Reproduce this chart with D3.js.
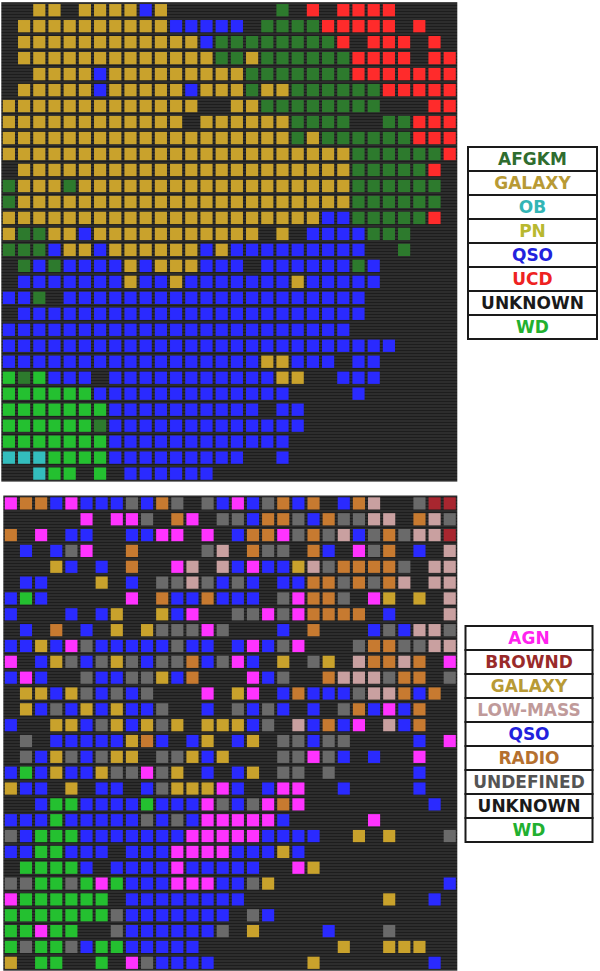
<!DOCTYPE html>
<html><head><meta charset="utf-8">
<script src="https://cdn.jsdelivr.net/npm/d3@7"></script>
<style>body{margin:0;background:#fff}svg{display:block}</style>
</head><body><svg id="c" width="600" height="971"></svg>
<script>
// ---------- data: top map ----------
const topCategories = ["AFGKM","GALAXY","OB","PN","QSO","UCD","UNKNOWN","WD"];
const topCodes      = ["A","G","O","P","Q","U","K","W"];
const topColors     = ["#2d7a2d","#c9a22c","#33bdbd","#c2c234","#2a2aff","#ff2b2b","#141414","#24c030"];
const topTextColors = ["#2f6d2f","#b89a35","#33b5b5","#b8b830","#2222dd","#ee2222","#1a1a1a","#22b030"];
// one string per map row, one character per column ('.' = empty node)
const topGrid = [
  "..GG.GGGGQG.......A.U.UUUU....",
  ".GGGGGGGGGGQQQQQ.AAAAUUUUU.U..",
  ".GGGGGGGGGGGGQAAAAAAAAU.UUU.U.",
  ".GGGGGGGGGGGGGAAGAAAAAAUUUU.UU",
  "..GGGGQGGGGGGGGGAAAAAAAUUUUUUU",
  ".GGGGGQGGGGGQGGGAGGAAAAAAUUUUU",
  "GGGGGGGGGGGGG..GGAAAAAAAA...UU",
  "GGGGGGGGGGGG.GGGGGGAAAA..AAUUU",
  "GGGGGGGGGGGGGGGGGGGAGAAAAAAUUU",
  "GGGGGGGGGGGGGGGGGGGGGGGAAAAAAU",
  ".GGGGGGGGGGGGGGGGGGGGGGAAAAAU.",
  "AGGGAGGGGGGGGGGGGGGGGGGAAAAAA.",
  "AGGGGGGGGGGGGGGGGGGGGGGAAAAAA.",
  "GGGGGGGGGGGGGGGGGGGGGQQAAAAAU.",
  "GAAGGQGGGGGGGGGGG.G.QQQQAAA...",
  "AAAQGGQGGGGGGQGQQQQQQQQQ..A...",
  ".AQAQQQQGQGGGQQQ.QQQQQQAQ.....",
  ".QQQQQQQGQQGQQQQQQQGQQQQQ.....",
  "QQA.QQQQQQQQQQQQQQQQQQQQ......",
  ".QQQQQQQQQQQQQQQQQQQQQQQ......",
  "QQQQQQQQQQQQQQQQQQQQQQQ.......",
  "QQQQQQQQQQQQQQQQQQQQQQQQQQ....",
  "QQQQQQQQQQQQQQQQQGGQQQ.QQ.....",
  "WAWQQQ.QQQQQQQQQQQGG..QQQ.....",
  "WWWWWWQQQQQQQQQQQQQ....Q......",
  "WWWWWWWQQQQQQQQQQ.QQ..........",
  "WWWWWWAQQQQQQQQQQQQQ..........",
  "WWWWWWWQQQQQQQQQQQQ...........",
  "OOOWWWWQQQQQQQQQ..Q...........",
  "..OWW.W.QQQQQQ................"
];

// ---------- data: bottom map ----------
const botCategories = ["AGN","BROWND","GALAXY","LOW-MASS","QSO","RADIO","UNDEFINED","UNKNOWN","WD"];
const botCodes      = ["M","B","G","L","Q","R","D","K","W"];
const botColors     = ["#ff33ff","#a8262f","#c9a22c","#c9a0a0","#2a2aff","#c77a30","#6a6a6a","#141414","#24c030"];
const botTextColors = ["#ff22ee","#992a2a","#b89a35","#c09a9a","#2222dd","#b5702f","#555555","#1a1a1a","#22b030"];
const botGrid = [
  "MRRQMQQQDQRD.DQMQDRQR.QRL..DBB",
  ".....M.MMD.RM.DDQRRDQRDDLL.RLD",
  "R.M.QQ..QQMM.M.QRRMDRDLQDRDLLB",
  ".Q.QDM..R....DL.RDD.RQ.MDR.Q.L",
  "...GQ.Q.R..ML.LQMQQGLDRRRRD.LL",
  ".QQ...G.Q.DDLDQDQ.QQRRDRDRL.LL",
  "QWQ.....M.RQQRQQQ.DMRRD.MG.G.L",
  "Q...Q.QG..GQM..DDMDMRRRR.Q...L",
  ".Q.R.Q.G.GDDDMD...Q.R...QDQLLD",
  "QQGQMDQQQQQDQQ.QMQDM...DRRDDLL",
  "M.QGDQDGDQDDRQDMQ.G.DG.LRRLR.M",
  "QMQ..DQQDDGQR...MQD..RLLLDRR.D",
  ".GGQGDQDQD...M.GM.QRQQQDLLRQR.",
  ".GQDQGQGQQD..Q.DQDQ.Q.DRQMQR..",
  "Q..GGQDGQGDG.GGGQD.LQRQM.LQR..",
  ".D.QQQQQGRQ.QG.QG.DDQDD....Q.M",
  ".DQGDQDGG.DDGQG...DDMDQ.Q..M..",
  "QWQGQQGDDMDG.Q.QG.DD.D.....Q..",
  "GQQ.G.QQ.QDGGGMQ.QMM..Q....Q..",
  "..QWWQQQQWQQQMDQDMRM........Q.",
  "QQQWQQQQQDQDQMMMMMQ.....M.....",
  "DQWWWQQQQQQQMMMMMQQQQ..G.G...D",
  "QQWWQQQ.QQQMMMMQQQGQ..........",
  ".WWWWQ.QQQQMQQQQQ..MG.........",
  "DDWWDWMWQQQMMMQQDG...........Q",
  "MWWWWWW.QQQQQQQQ.........G..Q.",
  "WWWWWWWDQQQQQQQ.DQ............",
  "WWMWW..DQQQQQQD.G....Q...D....",
  "WDWWDQWWQQQQQ.........G..GGG..",
  "G.WW..W.MDQQQQ......G.......Q."
];

// ---------- drawing ----------
const svg = d3.select("#c");
const defs = svg.append("defs");
const pat = defs.append("pattern").attr("id","scan").attr("patternUnits","userSpaceOnUse")
  .attr("width",6).attr("height",3);
pat.append("rect").attr("width",6).attr("height",3).attr("fill","#2d2d2d");
pat.append("rect").attr("y",2).attr("width",6).attr("height",1).attr("fill","#1d1d1d");

function drawMap(grid, codes, colors, x0, x1, y0, y1) {
  const nCols = grid[0].length, nRows = grid.length;
  const xs = d3.scaleBand().domain(d3.range(nCols)).range([x0, x1]).paddingInner(0.2).paddingOuter(0.1);
  const ys = d3.scaleBand().domain(d3.range(nRows)).range([y0, y1]).paddingInner(0.23).paddingOuter(0.115);
  const color = d3.scaleOrdinal().domain(codes).range(colors);
  const g = svg.append("g");
  g.append("rect").attr("x", x0).attr("y", y0).attr("width", x1 - x0).attr("height", y1 - y0)
    .attr("fill", "url(#scan)");
  const cells = [];
  grid.forEach((row, r) => row.split("").forEach((ch, c) => { if (ch !== ".") cells.push({r, c, ch}); }));
  g.selectAll("rect.cell").data(cells).join("rect").attr("class","cell")
    .attr("x", d => xs(d.c)).attr("y", d => ys(d.r))
    .attr("width", xs.bandwidth()).attr("height", ys.bandwidth())
    .attr("fill", d => color(d.ch));
}

function drawLegend(names, textColors, x0, x1, y0, y1) {
  const ys = d3.scaleBand().domain(d3.range(names.length)).range([y0, y1]);
  const g = svg.append("g");
  const items = g.selectAll("g").data(names).join("g");
  items.append("rect").attr("x", x0).attr("y", (d,i) => ys(i))
    .attr("width", x1 - x0).attr("height", ys.bandwidth())
    .attr("fill", "#fff").attr("stroke", "#1a1a1a").attr("stroke-width", 2);
  items.append("text")
    .attr("transform", (d,i) => `translate(${(x0 + x1) / 2},${ys(i) + ys.bandwidth() / 2}) scale(1,1.07)`)
    .attr("text-anchor", "middle").attr("dominant-baseline", "central")
    .attr("font-family", "DejaVu Sans, sans-serif").attr("font-weight", "bold").attr("font-size", 17)
    .attr("fill", (d,i) => textColors[i]).text(d => d);
}

drawMap(topGrid, topCodes, topColors, 1.3, 457.3, 2.2, 481.6);
drawLegend(topCategories, topTextColors, 468, 597, 147, 339);
drawMap(botGrid, botCodes, botColors, 3.3, 457.3, 495.5, 970.7);
drawLegend(botCategories, botTextColors, 465.5, 592.5, 626, 842);
</script></body></html>
